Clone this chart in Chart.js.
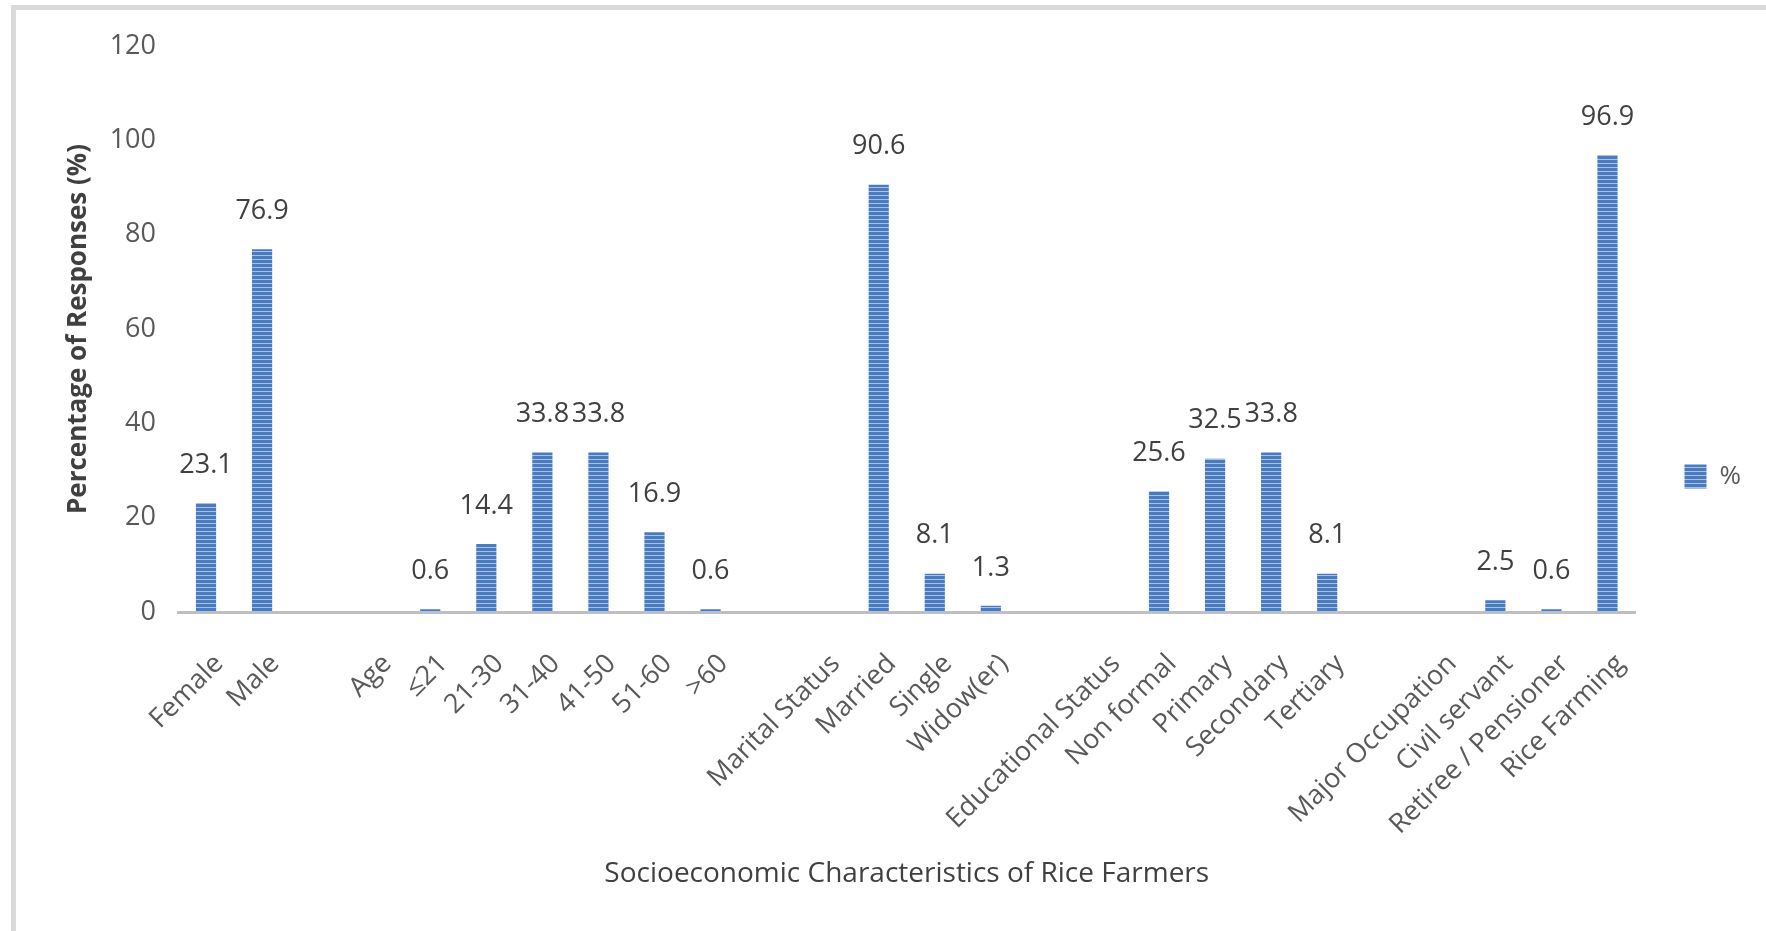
<!DOCTYPE html>
<html>
<head>
<meta charset="utf-8">
<script src="https://cdn.jsdelivr.net/npm/chart.js@4.4.1/dist/chart.umd.min.js"></script>
<style>
  html, body { margin: 0; padding: 0; background: #fff; }
  #wrap { position: relative; width: 1766px; height: 931px; overflow: hidden; }
  #frame {
    position: absolute; left: 11px; top: 5px; right: -10px; bottom: -10px;
    border-left: 5px solid #d9d9d9; border-top: 5px solid #d9d9d9;
  }
  #chart { position: absolute; left: 0; top: 0; }
</style>
</head>
<body>
<div id="wrap">
  <div id="frame"></div>
  <canvas id="chart" width="1766" height="931"></canvas>
</div>
<script>
// categories (blank slots are the gaps between the groups)
const categories = [
  "Female", "Male", "",
  "Age", "≤21", "21-30", "31-40", "41-50", "51-60", ">60", "",
  "Marital Status", "Married", "Single", "Widow(er)", "",
  "Educational Status", "Non formal", "Primary", "Secondary", "Tertiary", "",
  "Major Occupation", "Civil servant", "Retiree / Pensioner", "Rice Farming"
];
const percentValues = [
  23.1, 76.9, null,
  null, 0.6, 14.4, 33.8, 33.8, 16.9, 0.6, null,
  null, 90.6, 8.1, 1.3, null,
  null, 25.6, 32.5, 33.8, 8.1, null,
  null, 2.5, 0.6, 96.9
];
const yTicks = [0, 20, 40, 60, 80, 100, 120];

const FONT = "'Open Sans', 'Noto Sans', sans-serif";

// striped fill like the original bars
function stripePattern() {
  const c = document.createElement("canvas");
  c.width = 4; c.height = 4;
  const g = c.getContext("2d");
  g.fillStyle = "#4a7bbf";
  g.fillRect(0, 0, 4, 4);
  g.fillStyle = "#a7c2ea";
  g.fillRect(0, 3, 4, 1);
  return g.createPattern(c, "repeat");
}

// value labels above each bar
const valueLabels = {
  id: "valueLabels",
  afterDatasetsDraw(chart) {
    const ctx = chart.ctx;
    const meta = chart.getDatasetMeta(0);
    ctx.save();
    ctx.font = "27px " + FONT;
    ctx.fillStyle = "#404040";
    ctx.textAlign = "center";
    ctx.textBaseline = "middle";
    meta.data.forEach((bar, i) => {
      const v = percentValues[i];
      if (v === null) return;
      ctx.fillText(v.toFixed(1), bar.x, bar.y - 38);
    });
    ctx.restore();
  }
};

new Chart(document.getElementById("chart"), {
  type: "bar",
  data: {
    labels: categories,
    datasets: [{
      label: "%",
      data: percentValues,
      backgroundColor: stripePattern(),
      borderWidth: 0,
      barPercentage: 0.36,
      categoryPercentage: 1
    }]
  },
  options: {
    responsive: false,
    animation: false,
    layout: { padding: { left: 59, top: 46, bottom: 36, right: 15 } },
    scales: {
      x: {
        z: 1,
        grid: { display: false, drawTicks: false },
        border: { display: true, color: "#bfbfbf", width: 3 },
        ticks: {
          autoSkip: false,
          maxRotation: 45,
          minRotation: 45,
          padding: 36,
          labelOffset: 13,
          color: "#595959",
          font: { family: FONT, size: 27 }
        },
        title: {
          display: true,
          text: "Socioeconomic Characteristics of Rice Farmers",
          color: "#404040",
          font: { family: FONT, size: 28 }
        },
        afterFit(scale) { scale.height = 283; }
      },
      y: {
        min: 0,
        max: 120,
        grid: { display: false, drawTicks: false },
        border: { display: false },
        afterBuildTicks(scale) { scale.ticks = yTicks.map(v => ({ value: v })); },
        ticks: {
          padding: 22,
          color: "#595959",
          font: { family: FONT, size: 27 }
        },
        title: {
          display: true,
          text: "Percentage of Responses (%)",
          color: "#404040",
          font: { family: FONT, size: 26, weight: "bold" }
        },
        afterFit(scale) { scale.width = 119; }
      }
    },
    plugins: {
      legend: {
        position: "right",
        fullSize: true,
        align: "center",
        title: { display: true, text: "", padding: 0, font: { size: 10 } },
        labels: {
          boxWidth: 22,
          boxHeight: 24,
          padding: 49,
          color: "#595959",
          font: { family: FONT, size: 26 }
        }
      },
      tooltip: { enabled: false }
    }
  },
  plugins: [valueLabels]
});
</script>
</body>
</html>
